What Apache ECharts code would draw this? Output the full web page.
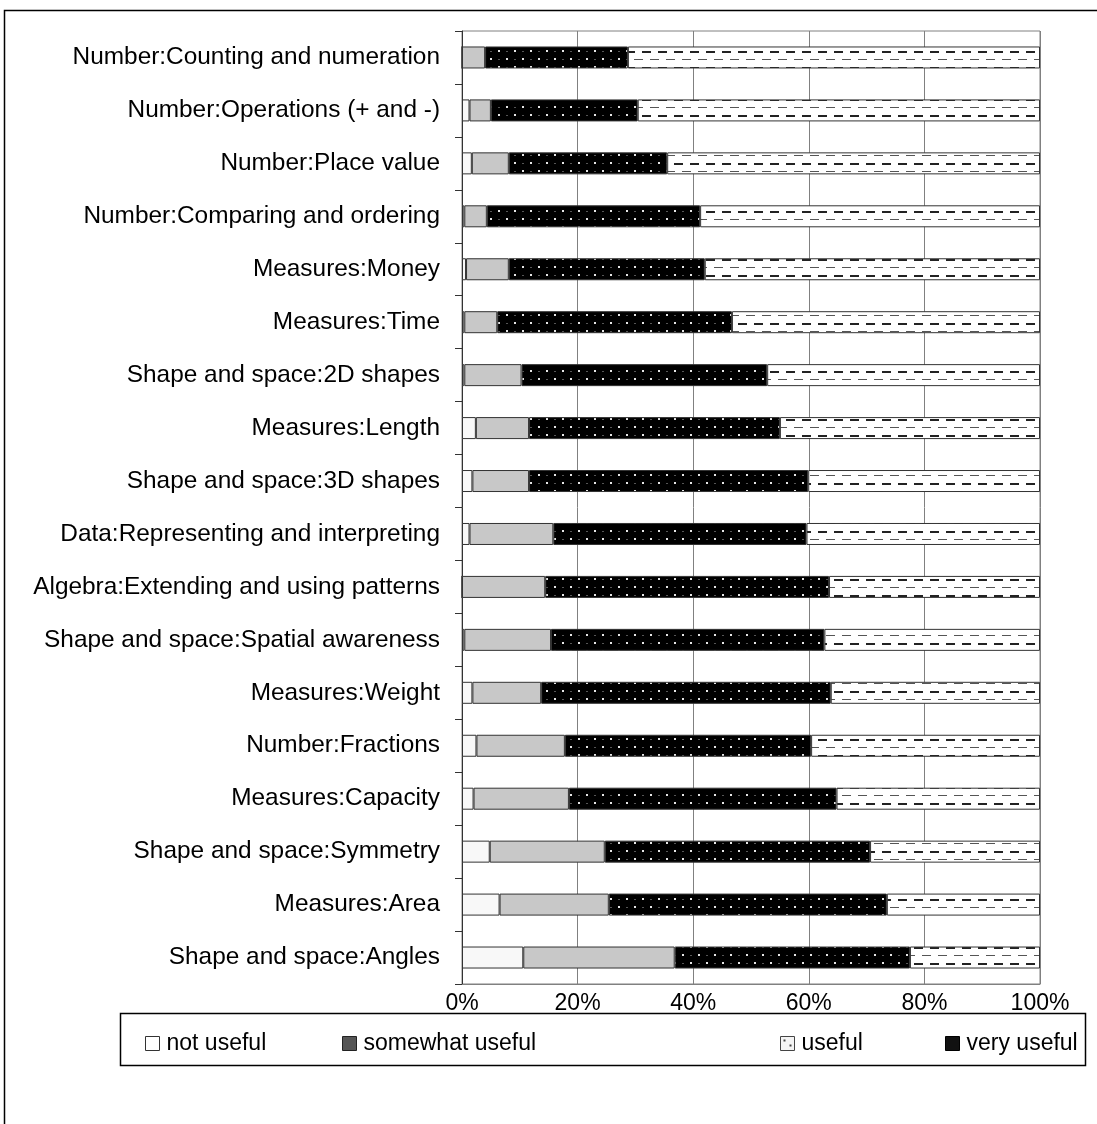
<!DOCTYPE html>
<html>
<head>
<meta charset="utf-8">
<script src="https://cdn.jsdelivr.net/npm/echarts@6/dist/echarts.min.js"></script>
<style>
  html, body { margin: 0; padding: 0; background: #fff; }
  #chart { width: 1097px; height: 1124px; }
</style>
</head>
<body>
<div id="chart"></div>
<script>
// Data (percent of responses, top row first)
var categories = [
    'Number:Counting and numeration',
    'Number:Operations (+ and -)',
    'Number:Place value',
    'Number:Comparing and ordering',
    'Measures:Money',
    'Measures:Time',
    'Shape and space:2D shapes',
    'Measures:Length',
    'Shape and space:3D shapes',
    'Data:Representing and interpreting',
    'Algebra:Extending and using patterns',
    'Shape and space:Spatial awareness',
    'Measures:Weight',
    'Number:Fractions',
    'Measures:Capacity',
    'Shape and space:Symmetry',
    'Measures:Area',
    'Shape and space:Angles'
];
var notUseful      = [0.0, 1.3, 1.7, 0.4, 0.7, 0.4, 0.4, 2.4, 1.8, 1.3, 0.0, 0.4, 1.8, 2.5, 2.0, 4.8, 6.5, 10.6];
var somewhatUseful = [4.0, 3.7, 6.4, 3.9, 7.4, 5.7, 9.9, 9.2, 9.8, 14.5, 14.4, 15.0, 11.9, 15.3, 16.5, 19.9, 18.9, 26.2];
var useful         = [24.7, 25.4, 27.4, 36.9, 33.9, 40.6, 42.5, 43.4, 48.3, 43.8, 49.1, 47.3, 50.1, 42.6, 46.3, 45.9, 48.1, 40.7];
var veryUseful     = [71.3, 69.6, 64.5, 58.8, 58.0, 53.3, 47.2, 45.0, 40.1, 40.4, 36.5, 37.3, 36.2, 39.6, 35.2, 29.4, 26.5, 22.5];
var xTicks = [0, 20, 40, 60, 80, 100];

// Pattern fills, like the old Excel hatch styles
function makeTile(draw) {
    var c = document.createElement('canvas');
    c.width = 16;
    c.height = 16;
    draw(c.getContext('2d'));
    return c;
}

var dotTile = makeTile(function(ctx) {
    ctx.fillStyle = '#000';
    ctx.fillRect(0, 0, 16, 16);
    ctx.fillStyle = '#e6e6e6';
    ctx.fillRect(2, 2, 2, 2);
    ctx.fillRect(10, 10, 2, 2);
    ctx.fillStyle = '#555';
    ctx.fillRect(10, 3, 2, 1);
    ctx.fillRect(2, 11, 2, 1);
});

var dashTile = makeTile(function(ctx) {
    ctx.fillStyle = '#fff';
    ctx.fillRect(0, 0, 16, 16);
    ctx.fillStyle = '#222';
    ctx.fillRect(2, 3, 9, 2);
    ctx.fillStyle = '#555';
    ctx.fillRect(10, 11, 9, 1);
    ctx.fillRect(0, 11, 3, 1);
});

var FONT = '"Liberation Sans", Arial, sans-serif';

var chart = echarts.init(document.getElementById('chart'));

function barSeries(name, data, fill) {
    return {
        name: name,
        type: 'bar',
        stack: 'total',
        barWidth: 22,
        data: data,
        itemStyle: {
            color: fill,
            borderColor: '#333',
            borderWidth: 1
        }
    };
}

function legendItem(name, left, style) {
    return {
        left: left,
        top: 1027,
        icon: 'rect',
        itemWidth: 14,
        itemHeight: 14,
        itemGap: 0,
        textStyle: { fontFamily: FONT, fontSize: 23, color: '#000', padding: [0, 0, 0, 2] },
        data: [{ name: name, itemStyle: style }]
    };
}

chart.setOption({
    animation: false,
    textStyle: { fontFamily: FONT },

    grid: {
        left: 462,
        right: 57,
        top: 31,
        bottom: 140,
        show: true,
        borderColor: '#808080',
        borderWidth: 1
    },

    legend: [
        legendItem('not useful', 140, { color: '#fff', borderColor: '#333', borderWidth: 1 }),
        legendItem('somewhat useful', 337, { color: '#555', borderColor: '#222', borderWidth: 1 }),
        legendItem('useful', 775, { color: { image: makeTile(function(ctx) {
            ctx.fillStyle = '#f4f4f4';
            ctx.fillRect(0, 0, 16, 16);
            ctx.fillStyle = '#444';
            ctx.fillRect(3, 3, 2, 2);
            ctx.fillRect(9, 8, 2, 2);
        }), repeat: 'repeat' }, borderColor: '#444', borderWidth: 1 }),
        legendItem('very useful', 940, { color: '#111', borderColor: '#000', borderWidth: 1 })
    ],

    xAxis: {
        type: 'value',
        min: xTicks[0],
        max: xTicks[xTicks.length - 1],
        interval: xTicks[1] - xTicks[0],
        axisLine: { show: true, lineStyle: { color: '#808080' } },
        axisTick: { show: false },
        axisLabel: {
            color: '#000',
            fontSize: 23,
            margin: 8,
            formatter: '{value}%'
        },
        splitLine: { lineStyle: { color: '#808080', width: 1 } }
    },

    yAxis: {
        type: 'category',
        inverse: true,
        data: categories,
        axisLine: { show: true, lineStyle: { color: '#333' } },
        axisTick: { show: true, length: 7, lineStyle: { color: '#333' } },
        axisLabel: {
            color: '#000',
            fontSize: 24.4,
            margin: 22
        },
        splitLine: { show: false }
    },

    series: [
        barSeries('not useful', notUseful, '#f8f8f8'),
        barSeries('somewhat useful', somewhatUseful, '#c8c8c8'),
        barSeries('useful', useful, { image: dotTile, repeat: 'repeat' }),
        barSeries('very useful', veryUseful, { image: dashTile, repeat: 'repeat' })
    ],

    graphic: [
        {
            type: 'rect',
            silent: true,
            shape: { x: 4.5, y: 10.5, width: 1200, height: 1200 },
            style: { fill: 'none', stroke: '#000', lineWidth: 1.5 }
        },
        {
            type: 'rect',
            silent: true,
            shape: { x: 120.5, y: 1013.5, width: 965, height: 52 },
            style: { fill: 'none', stroke: '#000', lineWidth: 1.5 }
        }
    ]
});
</script>
</body>
</html>
